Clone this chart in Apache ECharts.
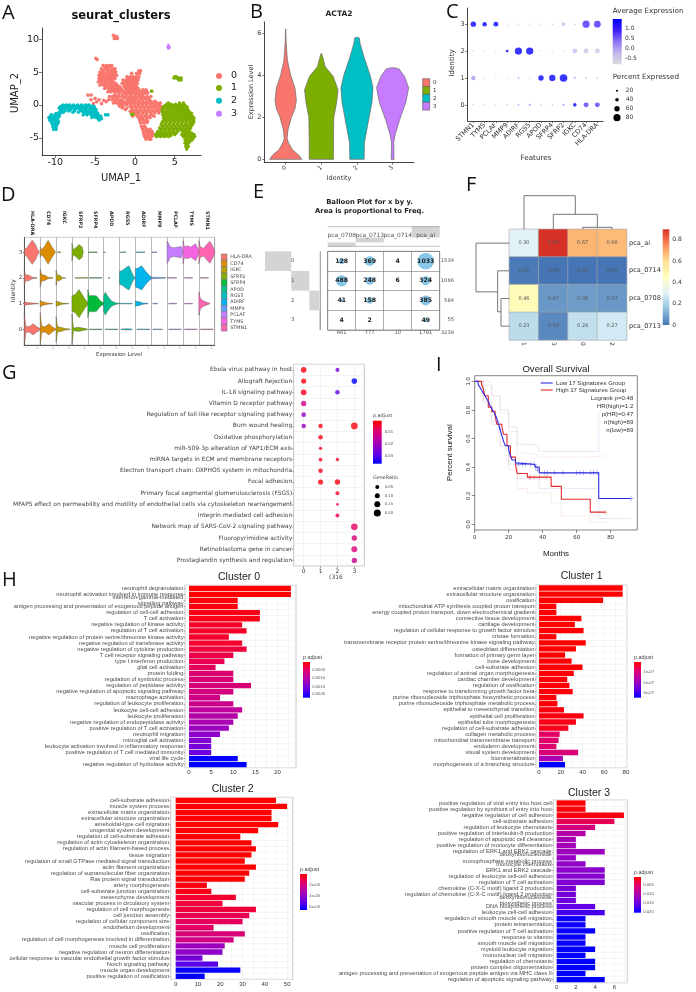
<!DOCTYPE html>
<html><head><meta charset="utf-8">
<style>html,body{margin:0;padding:0;background:#fff}#c{width:696px;height:992px;filter:blur(.42px)}</style>
<script src="https://cdn.jsdelivr.net/npm/echarts@6/dist/echarts.min.js"></script>
</head><body><div id="c"></div>
<script>
/* ---------- A: UMAP, rows of [y,[x...]] ---------- */
const umap0Rows=[[10.6,[-2.7]],[10.4,[-2.5,-2.3]],[10.1,[-2.6,-2.4,-2.2]],[7.1,[-4.9]],[6.9,[-4.75]],
[6,[-4,-3.6,-3.2,-2.9]],[5.5,[-4.2,-3.7,-3.3,-2.8,-2.5]],[5,[-4.4,-4,-3.5,-3.1,-2.7,-2.4]],[4.5,[-4.5,-4.1,-3.6,-3.2,-2.8,-2.3]],
[4,[-4.5,-4.2,-3.7,-3.3,-2.9,-2.5]],[3.5,[-4.6,-4.1,-3.6,-3.1,-2.7]],[3,[-4.4,-3.9,-3.5,-3.1,-2.6,-2.2]],
[2.5,[-3.8,-3.3,-2.9,-2.5,-2.1,-1.7]],[2,[-3.4,-3,-2.6,-2.2,-1.8,-1.4]],
[5.2,[.5,.7]],[4.8,[-.4,.2,.6]],[4.3,[-1,-.6,-.2,.2,.5]],[3.8,[-1.5,-1.1,-.7,-.3,.1,.4]],[3.3,[-1.6,-1.2,-.8,-.4,0,.3]],
[2.8,[-1.3,-.9,-.5,-.1,.2]],[2.3,[-1.1,-.7,-.3,.1,.5,1,1.4]],[1.8,[-1.2,-.8,-.4,0,.4,.8,1.2,1.6]],
[1.3,[-3.2,-2.8,-2.4,-2,-1.6,-1.1,-.6,-.2,.2,.6,1,1.5,2]],[.8,[-3.3,-2.9,-2.5,-2.1,-1.7,-.9,-.4,0,.4,.9,1.4,1.8]],
[.3,[-2.7,-2.3,-1.8,-1.3,-.8,-.3,.2,.7,1.2,1.7,2.2,2.8,3.2]],[-.2,[-1.9,-1.5,-.6,-.1,.4,.9,1.4,1.9,2.4,2.9,3.3]],
[-.7,[-1.2,-.3,.2,.7,1.2,1.7,2.2,2.7,3.1,3.5]],[-1.2,[-.4,.1,.5,1,1.5,2,2.5,3]],[-1.7,[-.3,.3,.8,1.3,1.8,2.4]],
[-2.2,[.6,1,1.4]],[-2.7,[.7,1.1,1.5]],[-3.2,[.8,1.2]],[-3.7,[1,1.5,1.9]],[-4.2,[1.1,1.5,1.9,2.2]],[-4.7,[1.2,1.6,2,2.2]],[-5.2,[1.4,1.8,2]],
[1.5,[-5.9,-5.5]],[1,[-5]],[.8,[-5.5,-4.5]],[.5,[-4.8,-3.6]],[.2,[-5.2,-4.2]],[.7,[-3.9]],
[5.8,[-3.8,-3.4,-3]],[5.25,[-4,-3.5,-3,-2.6]],[4.75,[-4.25,-3.85,-3.4,-2.95,-2.5]],[4.25,[-4.3,-3.9,-3.45,-3.05,-2.65]],[3.75,[-4.3,-3.85,-3.4,-2.95]],[3.25,[-4.2,-3.75,-3.3,-2.9,-2.4]],[2.75,[-3.6,-3.1,-2.7,-2.3,-1.9]],[2.25,[-3.2,-2.8,-2.4,-2,-1.6]],[1.6,[-2.5,-2,-1.5,-1,-.5,.1,.6,1]],[4.05,[-.9,-.5,-.05,.35]],[3.55,[-1.3,-.95,-.55,-.15,.2]],[3.05,[-1.4,-1,-.6,-.2,.1]],[2.55,[-1.15,-.8,-.4,0,.35]],[2.05,[-1,-.6,-.2,.25,.65,1.1,1.5]],[1.05,[-2.6,-2.2,-1.3,-.75,-.3,.15,.7,1.2,1.7]],[.55,[-2.5,-2,-1.5,-1,-.55,-.1,.45,.95,1.45,2,2.5]],[.05,[-2,-1.55,-1.05,-.5,0,.5,1,1.5,2.05,2.55,3]],[-.45,[-1.6,-1,-.4,.15,.65,1.15,1.65,2.15,2.65,3.2]],[-.95,[-.6,-.1,.35,.85,1.35,1.85,2.35,2.85]],[-1.45,[-.1,.4,.9,1.4,2.1]],[-1.95,[.5,.95,1.5,1.9]],[-2.45,[.65,1.2,1.6]],[-3.45,[.9,1.35]],[-3.95,[1.05,1.4,1.75,2.1]],[-4.45,[1.15,1.45,1.8,2.1]],[-4.95,[1.3,1.65,1.95]]];
const umap1Rows=[[4.3,[5,5.2]],[4.1,[4.9,5.2,5.5,5.8]],[3.8,[5.5,5.8]],[2.1,[2.1]],[-1.4,[-.4,-.25]],
[.3,[4.2,5.6,6.1]],[-.1,[3.8,4.3,4.8,5.3,5.8,6.3]],[-.5,[3.5,4,4.5,5,5.5,6,6.5]],[-1,[3.4,3.9,4.4,4.9,5.4,5.9,6.4,6.8]],
[-1.5,[3.5,4,4.5,5,5.5,6,6.5,7]],[-2,[3.6,4.1,4.6,5.1,5.6,6.1,6.6,7.1,7.4]],[-2.5,[3.5,4,4.5,5,5.5,6,6.5,7,7.4]],
[-3,[3.3,3.8,4.3,4.8,5.3,5.8,6.3,6.8,7.2]],[-3.5,[3.1,3.6,4.1,4.6,5.1,5.6,6.1,6.6,7]],[-4,[2.9,3.4,3.9,4.4,4.9,5.4,6,6.4,6.8]],
[-4.5,[2.6,3,3.4,3.9,4.4,5,5.9,6.4,6.9,7.4]],[-4.8,[2.7,3.2,3.7,4.2,6.1,6.6,7.1,7.5]],[-5.3,[6.3,6.8,7.2]],[-5.8,[6.3,6.7]],[-6.3,[6.4,6.7]],[-6.7,[6.5]],
[.1,[4,4.55,5.1,5.6,6.05]],[-.3,[3.6,4.15,4.65,5.15,5.65,6.15,6.55]],[-.75,[3.6,4.15,4.7,5.2,5.7,6.2,6.65]],[-1.25,[3.65,4.2,4.65,5.15,5.65,6.2,6.7,7.1]],[-1.75,[3.75,4.25,4.75,5.25,5.75,6.25,6.75,7.25]],[-2.25,[3.8,4.3,4.8,5.3,5.85,6.35,6.85,7.3]],[-2.75,[3.4,3.9,4.4,4.9,5.4,5.9,6.4,6.9,7.3]],[-3.25,[3.5,4,4.5,5,5.5,6,6.5,7]],[-3.75,[3.3,3.8,4.3,4.8,5.3,5.8,6.3,6.8]],[-4.25,[2.8,3.2,3.7,4.15,4.7,5.2,6.2,6.6,7.1]],[-4.65,[2.9,3.5,4,4.5,6.3,6.8,7.3]],[-5.05,[6.5,7,7.3]],[-5.55,[6.5,6.9]],[-6.05,[6.5]]];
const umap2Rows=[[0,[-9,-8.6,-8.2,-7.7,-7.2,-6.7,-6.2,-5.8]],[-.3,[-9.4,-9,-8.5,-8,-7.5,-7,-6.5,-6,-5.5,-5.1]],
[-.7,[-9.2,-8.7,-8.1,-7.5,-6.9,-6.3,-5.7,-5.2,-4.9]],[-1.1,[-9.5,-9,-7.8,-7.1,-6.4,-5.8,-5.3,-4.8]],
[-1.5,[-10.5,-10,-9.6,-6.5,-6,-5.5,-5,-4.6,-3.7,-3.4]],[-1.9,[-10.8,-10.3,-9.9,-5.4,-4.9,-4.4]],[-2.3,[-10.7,-10.2,-9.8,-4.5]],
[-2.8,[-10.4,-10,-9.7]],[-3.3,[-10.3,-9.9]],[-3.7,[-10.2,-9.9]],
[-.15,[-9.2,-8.8,-8.3,-7.8,-7.3,-6.8,-6.3,-5.7,-5.3]],[-.5,[-9.5,-8.9,-8.3,-7.7,-7.2,-6.6,-6.1,-5.5]],[-.9,[-9.3,-8.8,-8.3,-7.6,-6.7,-6.1,-5.5,-5]],[-1.3,[-9.9,-9.4,-6.2,-5.6,-5.1,-4.7]],[-1.7,[-10.6,-10.2,-9.8,-9.5,-5.2,-4.7,-4.3]],[-2.1,[-10.6,-10.1,-9.7,-4.6,-4.2]],[-2.55,[-10.5,-10,-9.6]],[-3.05,[-10.3,-9.85]],[-3.5,[-10.2,-9.95]]];
const umap3Rows=[[9.1,[4.2]],[8.9,[4.3]],[8.8,[4.1]],[8.7,[4.35]],[8.6,[4.2]]];
const clusterNames=['0','1','2','3'];
const clusterLabelPos=[[-.5,1.2],[5.3,-2.2],[-7.5,-1.1],[4.2,8.8]];

/* ---------- B: ACTA2 violins [level, half width] ---------- */
const acta2Violins=[
[[0,.45],[.2,.37],[.45,.19],[.8,.075],[1,.04],[1.4,.065],[2,.16],[2.4,.26],[2.8,.3],[3.4,.26],[4,.14],[4.7,.05],[5.5,.015],[6.2,.002]],
[[0,.34],[1,.34],[2,.35],[2.7,.43],[3.3,.47],[3.95,.33],[4.4,.11],[4.85,.04],[5.05,.003]],
[[0,.2],[.8,.21],[1.9,.33],[2.7,.42],[3.4,.45],[4,.37],[4.85,.2],[5.5,.09],[5.77,.065],[5.8,.02]],
[[0,.04],[.8,.03],[1.2,.075],[1.9,.2],[2.7,.37],[3.4,.45],[3.95,.33],[4.3,.18],[4.35,.05]]];

/* ---------- C: dot plot ---------- */
const dotFeatures=['STMN1','TYMS','PCLAF','MMP9','ADIRF','RGS5','APOD','SFRP4','SFRP2','IGKC','CD74','HLA-DRA'];
const dotPct3=[60,50,55,3,5,5,8,12,40,15,80,75], dotAvg3=[1.3,1.3,1.3,-.6,-.5,-.5,-.4,-.2,-.4,-.1,.7,.7];
const dotPct2=[5,5,5,30,80,80,5,5,8,55,55,55], dotAvg2=[-.5,-.5,-.5,1.3,1.3,1.3,-.6,-.5,-.5,-.4,-.5,-.55];
const dotPct1=[50,5,4,5,25,5,60,70,85,25,22,20], dotAvg1=[-.05,-.6,-.6,-.6,-.3,-.6,1.3,1.3,1.3,-.2,-.4,-.5];
const dotPct0=[10,5,5,15,20,25,12,12,25,40,55,55], dotAvg0=[-.3,-.5,-.5,-.2,-.1,0,-.3,-.2,0,1.3,.6,.6];

/* ---------- D: stacked violins ---------- */
const stackedGenes=['HLA-DRA','CD74','IGKC','SFRP2','SFRP4','APOD','RGS5','ADIRF','MMP9','PCLAF','TYMS','STMN1'];
const hueColors=['#F8766D','#DE8C00','#B79F00','#7CAE00','#00BA38','#00C08B','#00BFC4','#00B4F0','#619CFF','#C77CFF','#F564E3','#FF64B0'];
const stackedViolins=[
[0,3,[[0,.12],[.15,.15],[.3,.3],[.5,.47],[.7,.3],[.85,.1],[.95,.01]]],
[1,3,[[0,.2],[.1,.1],[.3,.25],[.5,.47],[.75,.2],[.95,.02]]],
[2,3,[[.1,.015],[.3,.015]]],
[3,3,[[0,.35],[.1,.1],[.3,.2],[.45,.3],[.65,.2],[.7,.05],[.72,.01]]],
[4,3,[[.05,.012],[.6,.012]]],[5,3,[[0,.012],[.1,.012]]],[6,3,[[.05,.012],[.4,.012]]],[7,3,[[.05,.012],[.6,.012]]],[8,3,[[.05,.012],[.35,.012]]],
[9,3,[[0,.43],[.05,.4],[.2,.2],[.45,.17],[.7,.2],[.9,.22],[.98,.03]]],
[10,3,[[0,.45],[.1,.2],[.25,.25],[.5,.2],[.8,.33],[1,.05]]],
[11,3,[[0,.45],[.1,.2],[.3,.15],[.5,.3],[.7,.43],[.9,.2],[1,.03]]],
[0,2,[[0,.3],[.1,.1],[.25,.12],[.5,.03],[.8,.01]]],
[1,2,[[0,.35],[.1,.12],[.3,.1],[.5,.03],[.8,.01]]],
[2,2,[[0,.3],[.1,.08],[.2,.12],[.4,.02],[.6,.01]]],
[3,2,[[.2,.012],[1,.012]]],[4,2,[[.1,.012],[.9,.012]]],[5,2,[[.3,.012],[.4,.012]]],
[6,2,[[0,.25],[.2,.3],[.4,.4],[.6,.47],[.75,.25],[.9,.05],[1,.01]]],
[7,2,[[0,.35],[.2,.4],[.4,.47],[.6,.3],[.8,.15],[1,.04]]],
[8,2,[[0,.03],[.9,.012]]],[9,2,[[0,.012],[.6,.012]]],[10,2,[[.1,.012],[.6,.012]]],[11,2,[[.1,.012],[.6,.012]]],
[0,1,[[0,.1],[.1,.05],[.5,.02],[.9,.01]]],[1,1,[[0,.12],[.2,.06],[.5,.02],[.8,.01]]],[2,1,[[0,.1],[.2,.06],[.4,.02],[.8,.01]]],
[3,1,[[0,.3],[.2,.35],[.45,.55],[.65,.35],[.85,.15],[1,.05]]],
[4,1,[[0,.55],[.1,.3],[.3,.32],[.55,.3],[.8,.1],[1,.03]]],
[5,1,[[0,.3],[.1,.45],[.25,.3],[.5,.1],[.8,.02],[1,.01]]],
[6,1,[[0,.012],[.8,.012]]],[7,1,[[0,.1],[.3,.06],[.5,.02],[.8,.01]]],[8,1,[[.1,.012],[.4,.012]]],[9,1,[[.1,.012],[.6,.012]]],[10,1,[[.1,.012],[.6,.012]]],
[11,1,[[0,.45],[.1,.2],[.3,.1],[.55,.04],[.7,.01]]],
[0,0,[[0,.65],[.1,.12],[.3,.1],[.55,.22],[.8,.1],[1,.02]]],
[1,0,[[0,.65],[.1,.12],[.3,.1],[.55,.22],[.8,.08],[1,.01]]],
[2,0,[[0,.5],[.1,.1],[.3,.08],[.6,.03],[.9,.01]]],
[3,0,[[0,.6],[.1,.05],[.4,.08],[.7,.05],[1,.01]]],
[4,0,[[.1,.012],[.9,.012]]],[5,0,[[.1,.012],[.9,.012]]],[6,0,[[.1,.012],[.5,.025],[.8,.012]]],[7,0,[[.1,.012],[.9,.012]]],
[8,0,[[.1,.012],[.7,.012]]],[9,0,[[.1,.012],[.9,.012]]],[10,0,[[.1,.012],[.9,.012]]],[11,0,[[.1,.012],[.9,.012]]]];

/* ---------- E: balloon table ---------- */
const balloonCols=['pca_0708','pca_0713','pca_0714','pca_ai'];
const balloonRow0=[128,369,4,1033], balloonRow1=[488,248,6,324], balloonRow2=[41,158,0,385], balloonRow3=[4,2,0,49];
const balloonRowTotals=[1534,1066,584,55], balloonColTotals=[661,777,10,1791], balloonTotal=3239;

/* ---------- F: heatmap ---------- */
const heatCols=['1','3','0','2'], heatRows=['pca_ai','pca_0714','pca_0708','pca_0713'];
const heatAi=[.30,.89,.67,.66], heat0714=[.01,0,0,0], heat0708=[.46,.07,.08,.07], heat0713=[.23,.04,.24,.27];
/* merges: [leaf a, height a, leaf b, height b, merge height] */
const dendroTop=[[2,0,3,0,.06],[1,0,2.5,.06,.446],[0,0,1.75,.446,1]];
const dendroLeft=[[2,0,3,0,.25],[1,0,2.48,.25,.35],[0,0,1.76,.35,1]];

/* ---------- G ---------- */
const gPathways=['Ebola virus pathway in host','Allograft Rejection','IL-18 signaling pathway','Vitamin D receptor pathway','Regulation of toll-like receptor signaling pathway','Burn wound healing','Oxidative phosphorylation','miR-509-3p alteration of YAP1/ECM axis','miRNA targets in ECM and membrane receptors','Electron transport chain: OXPHOS system in mitochondria','Focal adhesion','Primary focal segmental glomerulosclerosis (FSGS)','MFAP5 effect on permeability and motility of endothelial cells via cytoskeleton rearrangement','Integrin-mediated cell adhesion','Network map of SARS-CoV-2 signaling pathway','Fluoropyrimidine activity','Retinoblastoma gene in cancer','Prostaglandin synthesis and regulation'];
const gDots=[[0,0,.001,.15],[2,0,.025,.08],[0,1,.001,.13],[3,1,.036,.15],[0,2,.002,.16],[2,2,.028,.1],[0,3,.012,.14],[0,4,.021,.11],[0,5,.02,.1],[1,5,.002,.1],[3,5,.001,.2],[1,6,.002,.1],[1,7,.002,.05],[1,8,.003,.07],[2,8,.003,.05],[1,9,.002,.1],[1,10,.001,.13],[2,10,.001,.14],[2,11,.003,.08],[2,12,.004,.02],[2,13,.006,.08],[3,14,.008,.2],[3,15,.01,.14],[3,16,.01,.17],[3,17,.012,.14]];

/* ---------- H ---------- */
const c0Terms=['neutrophil degranulation','neutrophil activation involved in immune response','interferon-gamma-mediated\nsignaling pathway','antigen processing and presentation of exogenous peptide antigen','regulation of cell-cell adhesion','T cell activation','negative regulation of kinase activity','regulation of T cell activation','negative regulation of protein serine/threonine kinase activity','negative regulation of transferase activity','negative regulation of cytokine production','T cell receptor signaling pathway','type I interferon production','glial cell activation','protein folding','regulation of symbiotic process','regulation of peptidase activity','negative regulation of apoptotic signaling pathway','macrophage activation','regulation of leukocyte proliferation','leukocyte cell-cell adhesion','leukocyte proliferation','negative regulation of endopeptidase activity','positive regulation of T cell activation','neutrophil migration','microglial cell activation','leukocyte activation involved in inflammatory response','positive regulation of T cell mediated immunity','viral life cycle','negative regulation of hydrolase activity'];
const c0Counts=[23,23,11,11,16,16,12,13,9,12,13,10,8,6,10,10,14,10,7,10,12,11,10,9,7,5,5,5,11,13];
const c0P=[.00001,.00001,.00004,.00007,.00011,.00011,.00018,.00018,.00022,.00022,.00026,.00033,.00037,.00044,.00055,.00059,.00062,.00066,.00073,.00077,.00088,.00099,.0011,.00121,.00132,.00143,.00154,.00158,.00216,.0022];
const c1Terms=['extracellular matrix organization','extracellular structure organization','ossification','mitochondrial ATP synthesis coupled proton transport','energy coupled proton transport, down electrochemical gradient','connective tissue development','cartilage development','regulation of cellular response to growth factor stimulus','cristae formation','transmembrane receptor protein serine/threonine kinase signaling pathway','osteoblast differentiation','formation of primary germ layer','bone development','cell-substrate adhesion','regulation of animal organ morphogenesis','cardiac chamber development','regulation of ossification','response to transforming growth factor beta','purine ribonucleoside triphosphate biosynthetic process','purine ribonucleoside triphosphate metabolic process','epithelial to mesenchymal transition','epithelial cell proliferation','epithelial tube morphogenesis','regulation of cell-substrate adhesion','collagen metabolic process','mitochondrial transmembrane transport','endoderm development','visual system development','biomineralization','morphogenesis of a branching structure'];
const c1Counts=[77,77,59,16,16,39,33,41,16,43,34,24,30,40,32,26,28,31,16,17,23,41,34,27,19,18,16,36,22,24];
const c1P=[.01,.01,.01,.01,.01,.01,.01,.01,.01,.01,.02,.02,.02,.02,.02,.05,.05,.05,.05,.05,.1,.12,.15,.2,.75,.8,.85,.95,1.7,3.4];
const c2Terms=['cell-substrate adhesion','muscle system process','extracellular matrix organization','extracellular structure organization','ameboidal-type cell migration','urogenital system development','regulation of cell-substrate adhesion','regulation of actin cytoskeleton organization','regulation of actin filament-based process','tissue migration','regulation of small GTPase mediated signal transduction','actin filament organization','regulation of supramolecular fiber organization','Ras protein signal transduction','artery morphogenesis','cell-substrate junction organization','mesenchyme development','vascular process in circulatory system','regulation of cell morphogenesis','cell junction assembly','regulation of cellular component size','endothelium development','ossification','regulation of cell morphogenesis involved in differentiation','muscle cell proliferation','negative regulation of neuron differentiation','cellular response to vascular endothelial growth factor stimulus','Notch signaling pathway','muscle organ development','positive regulation of ossification'];
const c2Counts=[45,50,43,43,46,37,29,34,36,34,31,36,33,31,14,16,27,21,36,33,30,17,31,26,22,21,12,19,29,13];
const c2P=[.01,.01,.01,.01,.01,.01,.01,.01,.01,.01,.01,.01,.01,.01,.2,.33,.66,.8,.86,1.2,1.3,1.45,1.85,2.1,3.6,4,4.6,5.3,6.5,6.6];
const c3Terms=['positive regulation of viral entry into host cell','positive regulation by symbiont of entry into host','negative regulation of cell adhesion','cell-substrate adhesion','regulation of leukocyte chemotaxis','positive regulation of interleukin-8 production','regulation of apoptotic cell clearance','positive regulation of monocyte differentiation','regulation of ERK1 and ERK2 cascade','deoxyribonucleoside\nmonophosphate metabolic process','monocyte chemotaxis','ERK1 and ERK2 cascade','regulation of leukocyte cell-cell adhesion','regulation of T cell activation','chemokine (C-X-C motif) ligand 2 production','regulation of chemokine (C-X-C motif) ligand 2 production','deoxyribonucleoside\nbiosynthetic process','DNA biosynthetic process','leukocyte cell-cell adhesion','regulation of smooth muscle cell migration','protein tetramerization','positive regulation of T cell activation','response to vitamin','smooth muscle cell migration','myeloid leukocyte migration','mononuclear cell migration','regulation of chemotaxis','protein complex oligomerization','antigen processing and presentation of exogenous peptide antigen via MHC class II','regulation of apoptotic signaling pathway'];
const c3Counts=[3,3,7,6,4,3,2,2,5,2,3,5,5,5,2,2,2,4,5,3,3,4,3,3,4,3,4,4,3,5];
const c3P=[.0001,.0004,.0006,.0037,.0062,.0092,.0103,.0107,.0113,.0119,.0123,.0127,.0131,.0135,.0139,.0144,.0148,.016,.0174,.0199,.0199,.0201,.0201,.0201,.0203,.0203,.0205,.0205,.0205,.0205];

/* ---------- I ---------- */
const kmLow=[[0,1],[2,.98],[3,.96],[4,.94],[5,.92],[6,.9],[7,.88],[8,.86],[9,.83],[10,.81],[11,.79],[12,.77],[13,.74],[14,.7],[15,.66],[16,.62],[17,.58],[18,.55],[20,.52],[21,.48],[22,.45],[24,.43],[25,.42],[35,.42],[36,.4],[38,.36],[73,.36],[73,.18],[92,.18]];
const kmHigh=[[0,1],[4,.98],[5,.95],[6,.9],[8,.82],[10,.79],[12,.76],[13,.7],[16,.68],[17,.63],[19,.55],[21,.47],[24,.42],[25,.355],[31,.33],[45,.33],[45,.265],[51,.265],[51,.175],[68,.175],[68,.085],[77,.085]];
const kmLowUp=[[0,1],[5,.97],[10,.9],[15,.8],[20,.68],[25,.56],[37,.56],[38,.51],[73,.51],[73,.78]];
const kmLowDn=[[0,1],[5,.86],[10,.72],[15,.55],[20,.42],[25,.32],[38,.25],[73,.25],[73,.04],[92,.04]];
const kmHighUp=[[0,1],[5,1],[10,.9],[15,.78],[20,.65],[25,.5],[30,.49],[37,.47],[68,.47],[68,.48],[77,.48]];
const kmHighDn=[[0,1],[5,.85],[10,.7],[15,.55],[20,.38],[25,.25],[31,.22],[45,.2],[45,.15],[51,.06],[68,.015],[77,.015]];
const kmLowCens=[[26,.42],[28,.42],[30,.42],[33,.42],[35,.42],[36,.4],[37,.38],[41,.36],[43,.36],[47,.36],[52,.36],[60,.36],[62,.36],[64,.36],[68,.36],[70,.36],[72,.36],[92,.18]];
const kmHighCens=[[32,.33],[33,.33],[35,.33],[38,.33],[42,.33],[77,.085]];

/* ---------- builders ---------- */
const clusterColors=['#F8766D','#7CAE00','#00BFC4','#C77CFF'];
const DJ='"DejaVu Sans"', LB='"Liberation Sans"';
const redBlue=['#ff0000','#e6005e','#c0009c','#9000c8','#5a00e8','#0000ff'];
const grids=[],xAxes=[],yAxes=[],series=[],visualMaps=[],graphics=[];
function panel(l,t,r,b,xa,ya,extra){const i=grids.length;grids.push(Object.assign({left:l,top:t,width:r-l,height:b-t,show:false},extra||{}));xa.gridIndex=i;ya.gridIndex=i;xAxes.push(xa);yAxes.push(ya);return i;}
function vAxis(min,max,ticks,o){o=o||{};const lab=o.labels||ticks;return {type:'value',min,max,inverse:!!o.inverse,show:o.show!==false,
 axisLine:{show:o.line!==false,onZero:false,lineStyle:{color:o.lc||'#222',width:o.lw||1}},
 axisTick:{show:o.tick!==false,customValues:ticks,length:o.tl||2.5,lineStyle:{color:o.lc||'#333',width:.7}},
 axisLabel:{show:!o.noLabel,customValues:lab,fontSize:o.fs||7,color:o.c||'#333',margin:o.m||3,rotate:o.rot||0,fontFamily:o.f||DJ,formatter:o.fmt},
 splitLine:{show:!!o.grid,lineStyle:{color:o.grid,width:.6}}};}
function cAxis(data,o){o=o||{};return {type:'category',data,inverse:!!o.inverse,show:o.show!==false,boundaryGap:true,
 axisLine:{show:o.line!==false,onZero:false,lineStyle:{color:o.lc||'#222',width:o.lw||1}},
 axisTick:{show:o.tick!==false,alignWithLabel:o.align!==false,interval:0,length:o.tl||2,lineStyle:{color:o.lc||'#333',width:.7}},
 axisLabel:{show:!o.noLabel,interval:0,fontSize:o.fs||7,color:o.c||'#333',margin:o.m||3,rotate:o.rot||0,fontFamily:o.f||DJ,lineHeight:o.lh,hideOverlap:false},
 splitLine:{show:!!o.grid,interval:0,lineStyle:{color:o.grid,width:.6}}};}
function T(x,y,text,o){o=o||{};graphics.push({type:'text',x,y,rotation:o.rot||0,z:50,silent:true,style:{text,fill:o.c||'#333',font:(o.b?'bold ':'')+(o.s||7)+'px '+(o.f||DJ),align:o.a||'left',verticalAlign:'middle'}});}
function R(x,y,w,h,fill,stroke){graphics.push({type:'rect',z:49,silent:true,shape:{x,y,width:w,height:h},style:{fill,stroke:stroke||null,lineWidth:.6}});}
function L(x1,y1,x2,y2,c,w){graphics.push({type:'line',z:49,silent:true,shape:{x1,y1,x2,y2},style:{stroke:c||'#888',lineWidth:w||.7}});}
function C(x,y,r,fill){graphics.push({type:'circle',z:49,silent:true,shape:{cx:x,cy:y,r},style:{fill:fill||'#000'}});}
function VM(seriesIndex,dimension,min,max,colors,left,top,w,h,minAtTop){
 visualMaps.push({type:'continuous',show:false,seriesIndex,dimension,min,max,inRange:{color:colors}});
 const top2bot=minAtTop?colors:colors.slice().reverse();
 R(left,top,w,h,{type:'linear',x:0,y:0,x2:0,y2:1,colorStops:top2bot.map((c,i)=>({offset:i/(top2bot.length-1),color:c}))});
}
const flat=rows=>rows.flatMap(r=>r[1].map(x=>[x,r[0]]));

/* panel letters */
[['A',2,13],['B',250,12],['C',446,12],['D',1,195],['E',253,192],['F',466,185],['G',2,373],['H',2,580],['I',436,365]].forEach(p=>T(p[1],p[2],p[0],{s:20,c:'#111',f:'"Open Sans"'}));

/* A */
(function(){
 const g=panel(42,28,201,155,vAxis(-11.67,8.3,[-10,-5,0,5],{fs:9.5,tl:3,m:3,c:'#222',lc:'#444'}),vAxis(-7.6,11.7,[-5,0,5,10],{fs:9.5,tl:3,m:3,c:'#222',lc:'#444'}));
 [umap0Rows,umap1Rows,umap2Rows,umap3Rows].forEach((rows,i)=>series.push({type:'scatter',name:'c'+i,xAxisIndex:g,yAxisIndex:g,silent:true,symbolSize:i==3?2.6:3.6,itemStyle:{color:clusterColors[i],opacity:1},data:flat(rows)}));
 series.push({type:'scatter',xAxisIndex:g,yAxisIndex:g,silent:true,symbolSize:1,itemStyle:{opacity:0},data:clusterLabelPos.map((p,i)=>({value:p,label:{show:true,position:'inside',formatter:clusterNames[i],fontSize:9,color:'#222',fontFamily:DJ}}))});
 T(121,16.5,'seurat_clusters',{s:11.5,b:1,a:'center',c:'#111'});T(121,178,'UMAP_1',{s:10,a:'center',c:'#222'});T(15.5,93,'UMAP_2',{s:10,a:'center',rot:Math.PI/2,c:'#222'});
 [76,88,100.7,113.7].forEach((y,i)=>{C(219,y,3,clusterColors[i]);T(231,y,clusterNames[i],{s:9.5,c:'#222'});});
})();

/* B */
(function(){
 const g=panel(264.3,22,414,162.7,vAxis(-.6,3.6,[0,1,2,3],{fs:6,rot:45,m:4,tl:2,lc:'#444',c:'#444'}),vAxis(-.16,6.53,[0,2,4,6],{fs:6.5,tl:2,lc:'#444',c:'#333'}));
 series.push({type:'custom',xAxisIndex:g,yAxisIndex:g,silent:true,clip:false,data:acta2Violins.map((v,i)=>[i]),renderItem:(p,api)=>{const i=p.dataIndex,v=acta2Violins[i];
  const pts=v.map(q=>api.coord([i+q[1],q[0]])).concat(v.slice().reverse().map(q=>api.coord([i-q[1],q[0]])));
  return {type:'polygon',shape:{points:pts},style:{fill:clusterColors[i],stroke:'#6a6a6a',lineWidth:.7}};}});
 T(339,14,'ACTA2',{s:7.5,b:1,a:'center',c:'#222'});T(251.5,92,'Expression Level',{s:6.5,a:'center',rot:Math.PI/2});T(339,178,'Identity',{s:6.5,a:'center'});
 [0,1,2,3].forEach(i=>{R(422.7,78.7+i*7.85,7,7.85,clusterColors[i],'#555');T(433,82.6+i*7.85,clusterNames[i],{s:5.5});});
})();

/* C */
(function(){
 const g=panel(467.7,8,603,121,cAxis(dotFeatures,{fs:6.6,rot:45,m:3,lc:'#444',c:'#333'}),vAxis(-.6,3.6,[0,1,2,3],{fs:6.5,lc:'#444',c:'#333'}));
 const rows=[[dotPct0,dotAvg0],[dotPct1,dotAvg1],[dotPct2,dotAvg2],[dotPct3,dotAvg3]];
 const data=[];rows.forEach((r,id)=>r[0].forEach((pct,f)=>data.push([f,id,pct,r[1][f]])));
 const si=series.length;
 series.push({type:'scatter',xAxisIndex:g,yAxisIndex:g,silent:true,data,symbolSize:v=>Math.max(1.5,v[2]*.09),encode:{x:0,y:1}});
 VM(si,3,-.85,1.35,['#dcdcdc','#c3b6ec','#8f74f3','#3a20fa','#0000ff'],612.7,19,9,45.3);
 T(612.7,10.7,'Average Expression',{s:7.2});[['1.0',28],['0.5',38.7],['0.0',48.3],['-0.5',58.3]].forEach(a=>T(625,a[1],a[0],{s:6}));
 T(612.7,77.3,'Percent Expressed',{s:7.2});[[20,90.7,1],[40,99.7,1.8],[60,108.7,2.7],[80,117.7,3.6]].forEach(a=>{C(617,a[1],a[2],'#000');T(625.7,a[1],String(a[0]),{s:6});});
 T(452.3,63,'Identity',{s:7.2,a:'center',rot:Math.PI/2});T(536,157.7,'Features',{s:7.2,a:'center'});
})();

/* D */
(function(){
 const cols=[0,1,2,3,4,5,6,7,8,9,10,11,12];
 const g=panel(24.3,237.3,214.7,345,vAxis(0,12,cols,{noLabel:true,tick:false,line:true,lc:'#555',grid:'#8a8a8a'}),vAxis(-.61,3.58,[0,1,2,3],{fs:5.5,lc:'#555',m:2,tl:1.5}),{show:true,borderColor:'#aaa',borderWidth:.6});
 series.push({type:'custom',xAxisIndex:g,yAxisIndex:g,silent:true,clip:false,data:stackedViolins.map((v,i)=>[i]),renderItem:(p,api)=>{const d=stackedViolins[p.dataIndex],c=d[0],r=d[1],v=d[2];
  const pts=v.map(q=>api.coord([c+q[0],r+q[1]])).concat(v.slice().reverse().map(q=>api.coord([c+q[0],r-q[1]])));
  return {type:'polygon',shape:{points:pts},style:{fill:hueColors[c],stroke:'#555',lineWidth:.4}};}});
 stackedGenes.forEach((n,i)=>{T(32.2+i*15.87,211,n,{s:4.8,b:1,rot:-Math.PI/2,c:'#222'});T(26.3+i*15.87,348,'·',{s:3.5,c:'#777'});T(36+i*15.87,348,'3',{s:3,c:'#777'});});
 T(13.7,290.7,'Identity',{s:6,a:'center',rot:Math.PI/2});T(119,354.3,'Expression Level',{s:5.5,a:'center'});
 stackedGenes.forEach((n,i)=>{R(221.3,254+i*6.42,5.7,6.42,hueColors[i],'#777');T(230.3,257.2+i*6.42,n,{s:4.8,c:'#444'});});
})();

/* E */
(function(){
 const g=panel(327.7,251.3,439.7,330,cAxis(balloonCols,{noLabel:true,tick:false,line:false,grid:'#777'}),cAxis(['0','1','2','3'],{noLabel:true,tick:false,line:false,grid:'#777',inverse:true}),{show:true,borderColor:'#777',borderWidth:.7});
 const data=[];[balloonRow0,balloonRow1,balloonRow2,balloonRow3].forEach((r,y)=>r.forEach((v,x)=>{if(v>0)data.push([x,y,v]);}));
 series.push({type:'scatter',xAxisIndex:g,yAxisIndex:g,silent:true,data,symbolSize:v=>16.5*Math.sqrt(v[2]/1033),itemStyle:{color:'#87c7e8',opacity:1},label:{show:true,position:'inside',formatter:p=>p.value[2],fontSize:6.2,fontWeight:'bold',color:'#222',fontFamily:DJ}});
 const gt=panel(327.7,226,439.7,246.7,vAxis(0,4,[],{show:false}),vAxis(0,3239,[],{show:false}));
 series.push({type:'custom',xAxisIndex:gt,yAxisIndex:gt,silent:true,clip:false,data:balloonColTotals.map((v,i)=>[i]),renderItem:(p,api)=>{const i=p.dataIndex,st=balloonColTotals.slice(0,i).reduce((s,v)=>s+v,0),a=api.coord([i,st+balloonColTotals[i]]),b=api.coord([i+1,st]);return {type:'rect',shape:{x:a[0],y:a[1],width:b[0]-a[0],height:b[1]-a[1]},style:{fill:'#d4d4d4'}};}});
 const gl=panel(265,251.3,320.3,330,vAxis(0,balloonTotal,[],{show:false}),vAxis(0,4,[],{show:false,inverse:true}));
 series.push({type:'custom',xAxisIndex:gl,yAxisIndex:gl,silent:true,clip:false,data:balloonRowTotals.map((v,i)=>[i]),renderItem:(p,api)=>{const i=p.dataIndex,st=balloonRowTotals.slice(0,i).reduce((s,v)=>s+v,0),a=api.coord([st,i]),b=api.coord([st+balloonRowTotals[i],i+1]);return {type:'rect',shape:{x:a[0],y:a[1],width:b[0]-a[0],height:b[1]-a[1]},style:{fill:'#d4d4d4'}};}});
 T(369.5,202.7,'Balloon Plot for x by y.',{s:6.8,b:1,a:'center',c:'#222'});T(369.5,211,'Area is proportional to Freq.',{s:6.8,b:1,a:'center',c:'#222'});
 L(327.7,226.7,439.7,226.7,'#999',.6);L(327.7,246.3,439.7,246.3,'#999',.6);L(320.3,251.3,320.3,330,'#666',.7);
 balloonCols.forEach((n,i)=>{T(341.7+i*28,235.7,n,{s:5.9,a:'center',c:'#555'});T(341.7+i*28,333,String(balloonColTotals[i]),{s:5.2,a:'center',c:'#555'});});
 ['0','1','2','3'].forEach((n,i)=>{T(292.7,261+i*19.67,n,{s:5.5,a:'center',c:'#555'});T(454,261+i*19.67,String(balloonRowTotals[i]),{s:5.2,a:'right',c:'#555'});});
 T(454,333,String(balloonTotal),{s:5.2,a:'right',c:'#555'});
})();

/* F */
(function(){
 const g=panel(509.3,229.3,626.7,340,cAxis(heatCols,{noLabel:true,tick:false,line:false}),cAxis(heatRows,{noLabel:true,tick:false,line:false,inverse:true}));
 const data=[];[heatAi,heat0714,heat0708,heat0713].forEach((r,y)=>r.forEach((v,x)=>data.push([x,y,v])));
 const si=series.length;
 series.push({type:'heatmap',xAxisIndex:g,yAxisIndex:g,silent:true,data,itemStyle:{borderColor:'#a8a8a8',borderWidth:.6},label:{show:true,formatter:p=>p.value[2].toFixed(2),fontSize:5,color:'#555',fontFamily:DJ}});
 VM(si,2,0,.89,['#4575b4','#91bfdb','#e0f3f8','#ffffbf','#fee090','#fc8d59','#d73027'],662.7,229.3,6.6,95.7);
 const gt=panel(509.3,195.7,626.7,229.3,vAxis(-.5,3.5,[],{show:false}),vAxis(0,1,[],{show:false}));
 series.push({type:'custom',xAxisIndex:gt,yAxisIndex:gt,silent:true,clip:false,data:dendroTop.map((d,i)=>[i]),renderItem:(p,api)=>{const d=dendroTop[p.dataIndex];return {type:'polyline',shape:{points:[api.coord([d[0],d[1]]),api.coord([d[0],d[4]]),api.coord([d[2],d[4]]),api.coord([d[2],d[3]])]},style:{stroke:'#777',lineWidth:1,fill:null}};}});
 const gl=panel(476,229.3,509.3,340,vAxis(0,1,[],{show:false,inverse:true}),vAxis(-.5,3.5,[],{show:false,inverse:true}));
 series.push({type:'custom',xAxisIndex:gl,yAxisIndex:gl,silent:true,clip:false,data:dendroLeft.map((d,i)=>[i]),renderItem:(p,api)=>{const d=dendroLeft[p.dataIndex];return {type:'polyline',shape:{points:[api.coord([d[1],d[0]]),api.coord([d[4],d[0]]),api.coord([d[4],d[2]]),api.coord([d[3],d[2]])]},style:{stroke:'#777',lineWidth:1,fill:null}};}});
 heatRows.forEach((n,i)=>T(629,243+i*27.7,n,{s:6.6,c:'#333'}));
 heatCols.forEach((n,i)=>T(524+i*29.35,344,n,{s:6,a:'center',rot:-Math.PI/2,c:'#333'}));
 [['0.8',239.3],['0.6',261],['0.4',282.3],['0.2',303.7],['0',325]].forEach(a=>T(672.3,a[1],a[0],{s:6,c:'#333'}));
})();

/* G */
(function(){
 const g=panel(293.7,364.3,364.3,566,vAxis(-.59,3.59,[0,1,2,3],{fs:6,lc:'#888',tl:2,grid:'#ececec',line:false,c:'#333',m:2}),cAxis(gPathways,{fs:5.95,inverse:true,lc:'#888',line:false,grid:'#ececec',tl:1.5,m:1.5,c:'#444'}),{show:true,borderColor:'#c4c4c4',borderWidth:1});
 const si=series.length;
 series.push({type:'scatter',xAxisIndex:g,yAxisIndex:g,silent:true,data:gDots,symbolSize:v=>2.3+v[3]*22,encode:{x:0,y:1}});
 VM(si,2,0,.036,redBlue,373,420.7,8.7,43,true);
 T(373,415.3,'p.adjust',{s:4.8,c:'#444'});[['0.01',432.3],['0.02',444],['0.03',455.7]].forEach(a=>T(384.7,a[1],a[0],{s:3.8,c:'#444'}));
 T(373,477.3,'GeneRatio',{s:4.8,c:'#444'});[['0.05',487,2],['0.10',495.7,2.5],['0.15',504.3,3],['0.20',513,3.5]].forEach(a=>{C(377.3,a[1],a[2],'#000');T(384.7,a[1],a[0],{s:3.8,c:'#444'});});
 T(336,577.5,'(316',{s:6,a:'center',c:'#444'});
 [303.7,320.7,354.7].forEach(x=>T(x,575,'· · ·',{s:3,a:'center',c:'#666'}));
})();

/* H */
function bars(terms,counts,ps,box,xmin,xmax,ticks,gridVals,pMax,title,tx,ty,leg){
 const g=panel(box[0],box[1],box[2],box[3],vAxis(xmin,xmax,gridVals,{labels:ticks,tick:false,line:false,fs:6,f:LB,grid:'#efefef',c:'#333',m:2}),
  cAxis(terms,{inverse:true,fs:5.75,f:LB,lh:6.6,line:false,tl:1.2,m:1.5,lc:'#888',grid:'#f2f2f2',c:'#4a4a4a'}),{show:true,borderColor:'#d2d2d2',borderWidth:1.2});
 const si=series.length;
 series.push({type:'bar',xAxisIndex:g,yAxisIndex:g,silent:true,barCategoryGap:'12%',encode:{x:0,y:1},data:counts.map((v,i)=>[v,i,ps[i]])});
 VM(si,2,0,pMax,redBlue,leg.x,leg.y,7,leg.h,true);
 T(tx,ty,title,{s:10.5,a:'center',f:LB,c:'#222'});
 T(leg.x,leg.y-4.5,'p.adjust',{s:5.4,c:'#444',f:LB});
 leg.ticks.forEach(a=>T(leg.x+9.3,a[1],a[0],{s:4.2,c:'#555',f:LB}));
}
bars(c0Terms,c0Counts,c0P,[185,585.3,296,767.7],-.9,24.15,[0,5,10,15,20],[0,2.5,5,7.5,10,12.5,15,17.5,20,22.5],.0022,'Cluster 0',239,577,{x:303,y:662,h:35.7,ticks:[['0.0005',670],['0.0010',678.3],['0.0015',686.7],['0.0020',694.3]]});
bars(c1Terms,c1Counts,c1P,[536,585,626.7,767.7],-2.75,80.7,[0,20,40,60,80],[0,10,20,30,40,50,60,70,80],3.4,'Cluster 1',581.7,575.7,{x:634,y:662,h:35.7,ticks:[['1e-07',672.3],['2e-07',683],['3e-07',693.3]]});
bars(c2Terms,c2Counts,c2P,[170.7,797.3,292.7,979.3],-2.25,52.5,[0,10,20,30,40,50],[0,5,10,15,20,25,30,35,40,45,50],6.6,'Cluster 2',232.7,789.3,{x:300,y:874,h:36,ticks:[['2e-05',885],['4e-05',895.7],['6e-05',906.7]]});
bars(c3Terms,c3Counts,c3P,[553.3,800,627.3,982.7],-.35,7.35,[0,2,4,6],[0,1,2,3,4,5,6,7],.0205,'Cluster 3',589,793,{x:634,y:877,h:35.7,ticks:[['0.005',884.7],['0.010',893.7],['0.015',902.7],['0.020',911.7]]});

/* I */
(function(){
 const g=panel(474.7,375.7,637.3,530,vAxis(0,95.7,[0,20,40,60,80],{fs:6,f:LB,lc:'#555',tl:3,m:4,line:false,c:'#333'}),vAxis(-.04,1.04,[0,.2,.4,.6,.8,1],{fs:6,f:LB,lc:'#555',tl:3,m:3,rot:90,line:false,c:'#333',fmt:v=>v.toFixed(1)}),{show:true,borderColor:'#666',borderWidth:.8});
 const line=(data,c,w,dash)=>series.push({type:'line',xAxisIndex:g,yAxisIndex:g,silent:true,step:'end',symbol:'none',data,lineStyle:{color:c,width:w,type:dash?'dotted':'solid'},animation:false});
 line(kmLowUp,'#b4b4ee',.6,1);line(kmLowDn,'#b4b4ee',.6,1);line(kmHighUp,'#f2baba',.6,1);line(kmHighDn,'#f2baba',.6,1);
 line(kmHigh,'#e52b2b',1.1);line(kmLow,'#2b2be5',1.1);
 const plus='path://M4.6 0h.8v4.6h4.6v.8h-4.6v4.6h-.8v-4.6h-4.6v-.8h4.6z';
 series.push({type:'scatter',xAxisIndex:g,yAxisIndex:g,silent:true,symbol:plus,symbolSize:5,data:kmLowCens,itemStyle:{color:'#2b2be5'}});
 series.push({type:'scatter',xAxisIndex:g,yAxisIndex:g,silent:true,symbol:plus,symbolSize:5,data:kmHighCens,itemStyle:{color:'#e52b2b'}});
 T(556,369.3,'Overall Survival',{s:9.6,a:'center',f:LB,c:'#222'});T(556,554,'Months',{s:8,a:'center',f:LB,c:'#222'});T(450,452.7,'Percent survival',{s:8,a:'center',rot:Math.PI/2,f:LB,c:'#222'});
 L(540.7,383,552.7,383,'#2b2be5',1.1);L(540.7,390,552.7,390,'#e52b2b',1.1);
 T(556,383,'Low 17 Signatures Group',{s:6.1,f:LB});T(556,390,'High 17 Signatures Group',{s:6.1,f:LB});
 [['Logrank p=0.48',398],['HR(high)=1.2',406],['p(HR)=0.47',414],['n(high)=89',422],['n(low)=89',430.3]].forEach(a=>T(633.3,a[1],a[0],{s:6.1,a:'right',f:LB}));
})();

const chart=echarts.init(document.getElementById('c'),null,{renderer:'canvas',width:696,height:992});
chart.setOption({animation:false,backgroundColor:'#fff',grid:grids,xAxis:xAxes,yAxis:yAxes,visualMap:visualMaps,series,graphic:{elements:graphics}});
</script></body></html>
